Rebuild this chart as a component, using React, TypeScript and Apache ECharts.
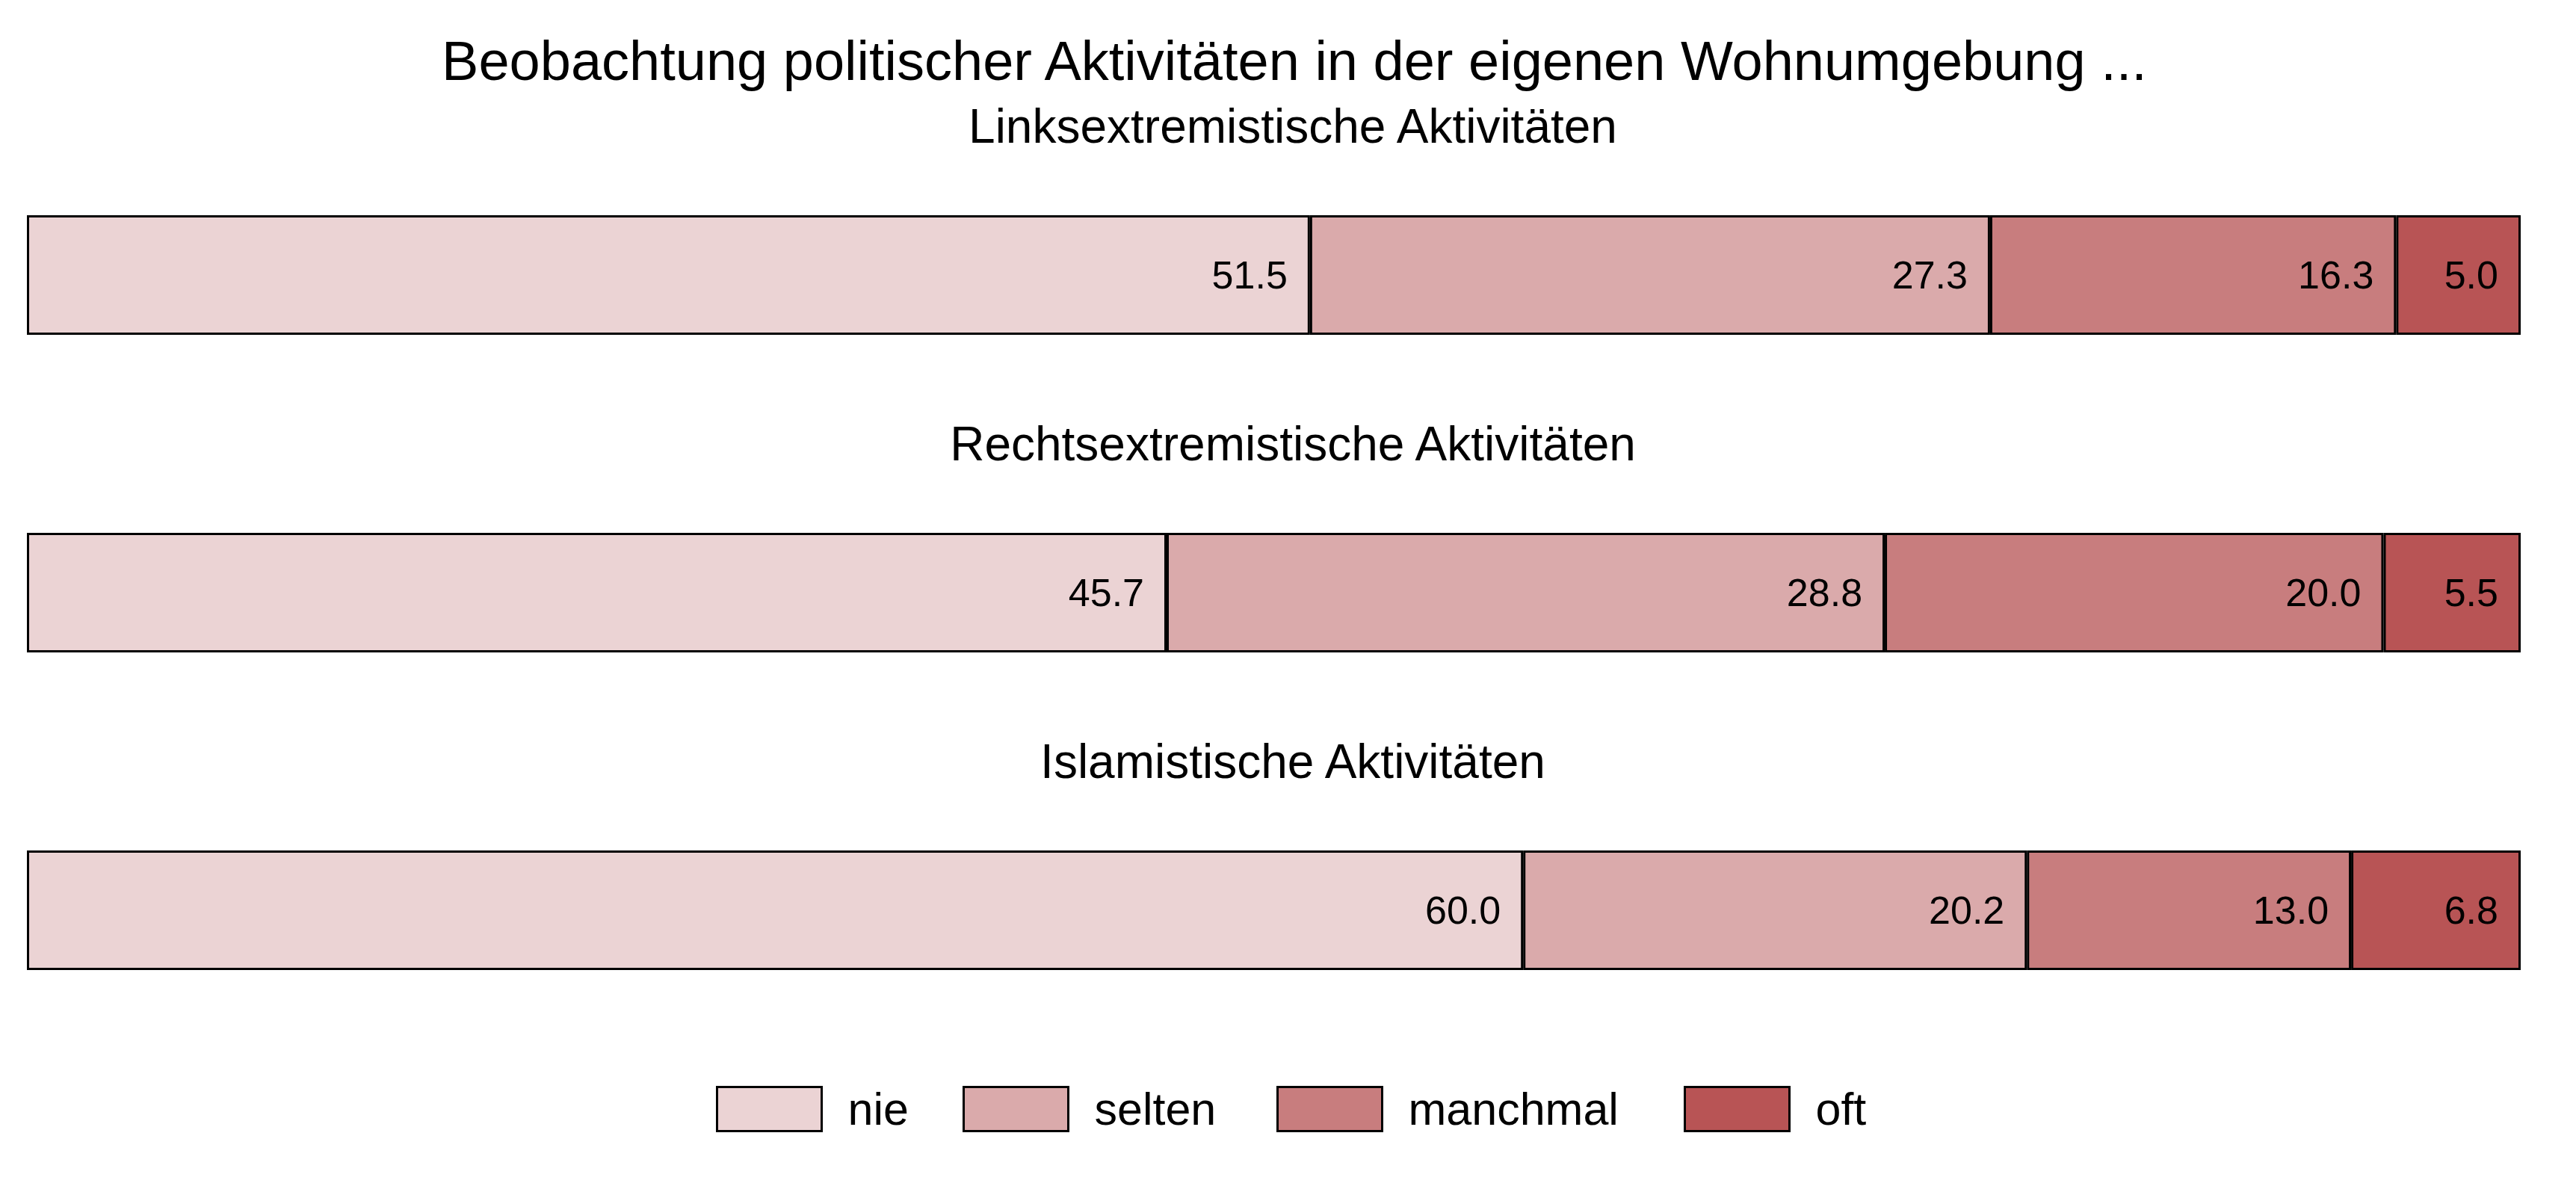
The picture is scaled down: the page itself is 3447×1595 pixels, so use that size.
import React, { useEffect, useRef } from "react";
import * as echarts from "echarts";

const mainTitle = "Beobachtung politischer Aktivitäten in der eigenen Wohnumgebung ...";
const categories = [
  "Linksextremistische Aktivitäten",
  "Rechtsextremistische Aktivitäten",
  "Islamistische Aktivitäten",
];
const levels = ["nie", "selten", "manchmal", "oft"];
const nie = [51.5, 45.7, 60.0];
const selten = [27.3, 28.8, 20.2];
const manchmal = [16.3, 20.0, 13.0];
const oft = [5.0, 5.5, 6.8];
const colors = ["#EBD3D4", "#DAAAAB", "#C87D7E", "#B85455"];

const FONT = "'Liberation Sans', Arial, Helvetica, sans-serif";

export default function App() {
  const ref = useRef<HTMLDivElement>(null);
  useEffect(() => {
    if (!ref.current) return;
    const chart = echarts.init(ref.current, undefined, { renderer: "svg" });
    const seriesValues = [nie, selten, manchmal, oft];
    const rowTotals = categories.map((_, i) =>
      seriesValues.reduce((s, arr) => s + arr[i], 0)
    );

    const gridTop = 155.5;
    const band = 425;
    const legendLefts = [958, 1288, 1708, 2253];

    const option: any = {
      animation: false,
      backgroundColor: "#ffffff",
      textStyle: { fontFamily: FONT },
      grid: { left: 36, right: 74, top: gridTop, height: band * categories.length },
      xAxis: { type: "value", min: 0, max: 100, show: false },
      yAxis: { type: "category", data: categories, inverse: true, show: false },
      legend: levels.map((name, i) => ({
        data: [name],
        left: legendLefts[i],
        top: 1453,
        itemWidth: 140,
        itemHeight: 59,
        padding: 0,
        icon: "rect",
        itemStyle: { borderColor: "#000", borderWidth: 3 },
        textStyle: { fontFamily: FONT, fontSize: 61, color: "#000", padding: [0, 0, 0, 30] },
        selectedMode: false,
      })),
      graphic: [
        {
          type: "text",
          x: 1732,
          y: 81,
          style: {
            text: mainTitle,
            font: `74px ${FONT}`,
            fill: "#000",
            textAlign: "center",
            textVerticalAlign: "middle",
          },
        },
        ...categories.map((c, i) => ({
          type: "text",
          x: 1730,
          y: gridTop + band * (i + 0.5) - 199,
          style: {
            text: c,
            font: `64px ${FONT}`,
            fill: "#000",
            textAlign: "center",
            textVerticalAlign: "middle",
          },
        })),
      ],
      series: levels.map((name, si) => ({
        name,
        type: "bar",
        stack: "total",
        barWidth: 160,
        itemStyle: { color: colors[si], borderColor: "#000", borderWidth: 3 },
        label: {
          show: true,
          position: "insideRight",
          distance: 30,
          fontFamily: FONT,
          fontSize: 52,
          color: "#000",
          formatter: (p: any) => p.data.raw.toFixed(1),
        },
        data: seriesValues[si].map((v, ci) => ({
          value: (v / rowTotals[ci]) * 100,
          raw: v,
        })),
      })),
    };
    chart.setOption(option);
    return () => chart.dispose();
  }, []);
  return (
    <div
      ref={ref}
      style={{ position: "fixed", left: 0, top: 0, width: 3447, height: 1595, background: "#fff" }}
    />
  );
}
